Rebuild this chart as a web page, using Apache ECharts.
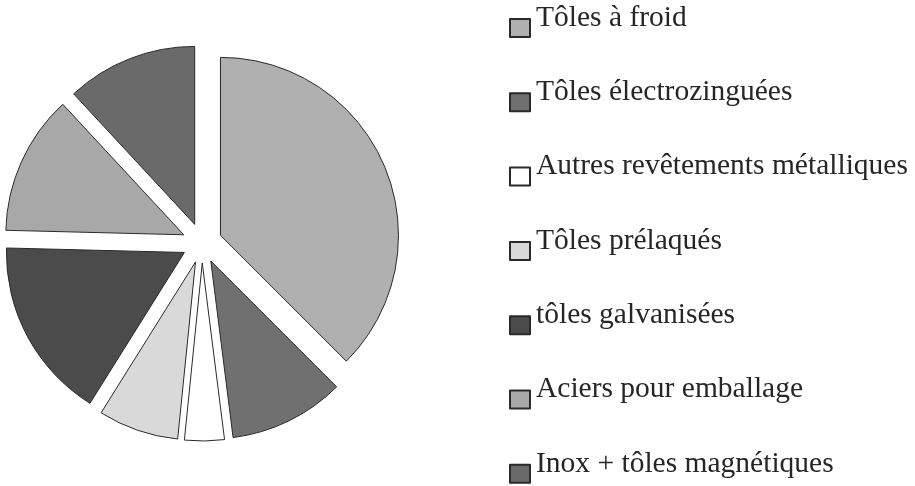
<!DOCTYPE html>
<html lang="fr" style="height: 100%">
<head>
    <meta charset="utf-8">
</head>
<body style="height: 100%; margin: 0; background: #fff">
<div id="main" style="width: 915px; height: 486px"></div>

<script type="text/javascript" src="https://cdn.jsdelivr.net/npm/echarts@6/dist/echarts.min.js"></script>
<script type="text/javascript">
    // parts (%), clockwise from 12 o'clock
    var categories = [
        'Tôles à froid',
        'Tôles électrozinguées',
        'Autres revêtements métalliques',
        'Tôles prélaqués',
        'tôles galvanisées',
        'Aciers pour emballage',
        'Inox + tôles magnétiques'
    ];
    var values = [37.5, 10.5, 3.6, 7.3, 16.5, 12.7, 11.9];
    var greys = ['#b0b0b0', '#707070', '#ffffff', '#d9d9d9', '#4b4b4b', '#a8a8a8', '#6a6a6a'];

    var chartDom = document.getElementById('main');
    var myChart = echarts.init(chartDom);

    var pieData = categories.map(function (name, i) {
        return {
            name: name,
            value: values[i],
            selected: true,
            itemStyle: { color: greys[i] }
        };
    });

    var rowStep = 74.3;

    var option = {
        animation: false,
        legend: [{
            // squares only, they sit a little lower than the text
            orient: 'vertical',
            left: 509,
            top: 18,
            height: 468,
            padding: 0,
            icon: 'rect',
            itemWidth: 20,
            itemHeight: 18,
            itemGap: rowStep - 20,   // item box counts the 1px border
            selectedMode: false,
            formatter: function () { return ''; },
            textStyle: { fontSize: 8, lineHeight: 12 },
            data: categories
        }, {
            // labels only
            orient: 'vertical',
            left: 511,
            top: 3,
            height: 483,
            padding: 0,
            icon: 'none',
            itemWidth: 20,
            itemHeight: 18,
            itemGap: rowStep - 30,
            selectedMode: false,
            textStyle: {
                fontFamily: 'Liberation Serif',
                fontSize: 29.5,
                lineHeight: 30,
                color: '#262626'
            },
            data: categories
        }],
        series: [{
            type: 'pie',
            center: [202, 243],
            radius: 178,
            startAngle: 90,
            clockwise: true,
            selectedMode: 'multiple',
            selectedOffset: 20,
            silent: true,
            label: { show: false },
            labelLine: { show: false },
            itemStyle: {
                borderColor: '#2a2a2a',
                borderWidth: 1
            },
            data: pieData
        }]
    };

    myChart.setOption(option);
</script>
</body>
</html>
